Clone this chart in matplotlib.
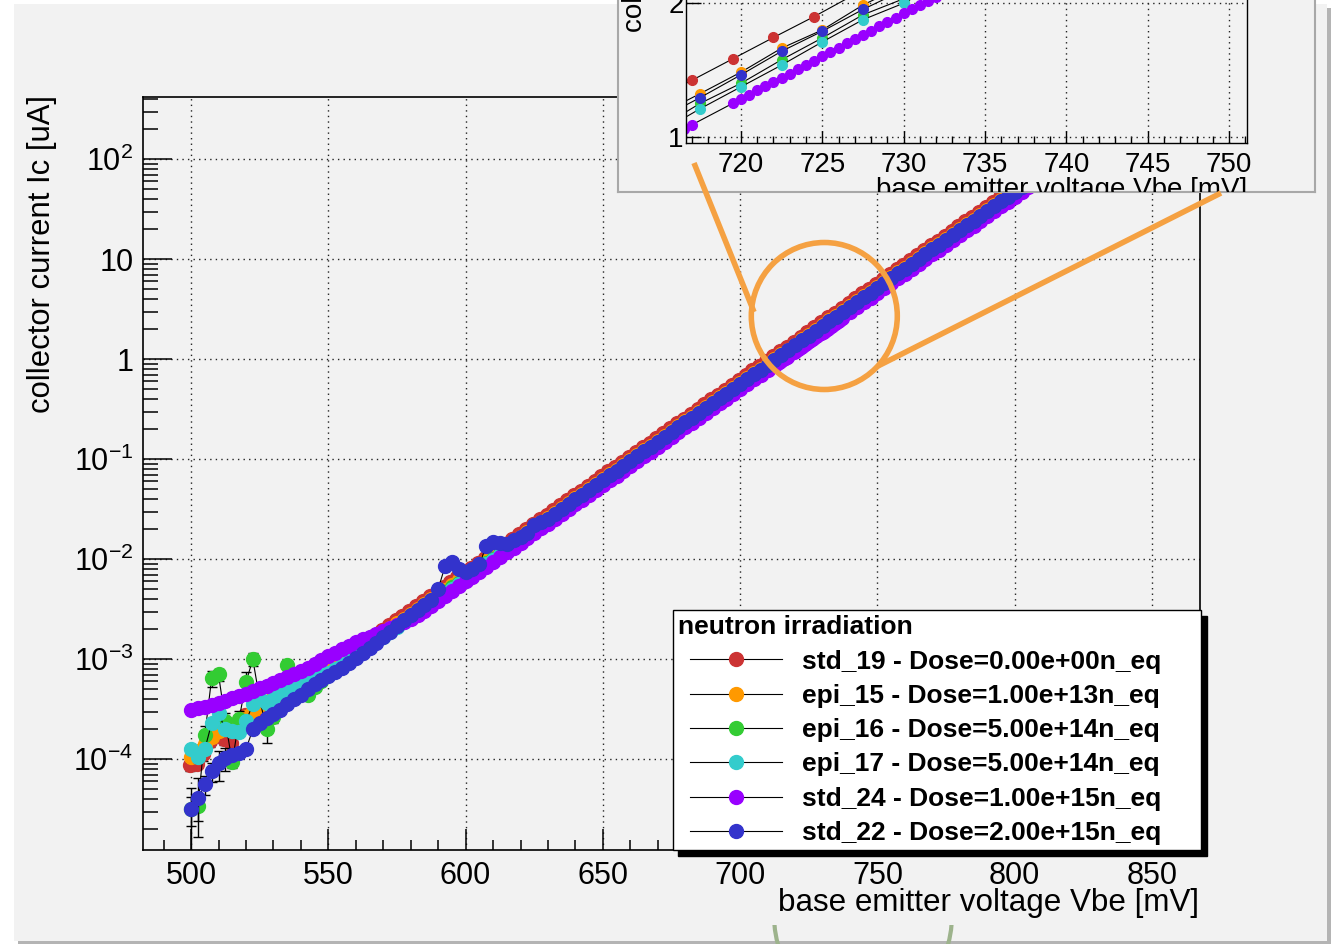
import numpy as np
import matplotlib
matplotlib.use("Agg")
import matplotlib.pyplot as plt
from matplotlib.patches import Rectangle, Ellipse
from matplotlib.lines import Line2D
from matplotlib.legend_handler import HandlerLine2D
from matplotlib.ticker import FixedLocator, FixedFormatter, LogLocator, MultipleLocator, NullFormatter

plt.rcParams['font.family'] = ['Liberation Sans', 'DejaVu Sans']
plt.rcParams['mathtext.fontset'] = 'custom'
plt.rcParams['mathtext.rm'] = 'Liberation Sans'
plt.rcParams['mathtext.it'] = 'Liberation Sans:italic'
plt.rcParams['mathtext.bf'] = 'Liberation Sans:bold'

# ---------------- data (log10 of collector current in uA) ----------------
vbe = np.arange(500.0, 850.01, 2.5)          # measurement grid [mV]
vbe_std19 = vbe - 0.5
vbe_std24 = np.concatenate([np.arange(500.0, 712.51, 2.5), np.arange(713.0, 717.01, 0.5),
                            np.arange(719.5, 737.01, 0.5), np.arange(740.0, 850.01, 2.5)])

log_std19 = [-4.06, -4.05, -3.95, -3.82, -3.74, -3.80, -3.84, -3.66, -3.56, -3.63,
             -3.57, -3.50, -3.45, -3.40, -3.35, -3.30, -3.26, -3.21, -3.17, -3.12,
             -3.08, -3.04, -2.99, -2.94, -2.90, -2.85, -2.81, -2.76, -2.71, -2.66,
             -2.61, -2.57, -2.52, -2.47, -2.42, -2.37, -2.33, -2.28, -2.23, -2.18,
             -2.13, -2.09, -2.04, -1.99, -1.94, -1.89, -1.85, -1.80, -1.75, -1.70,
             -1.65, -1.60, -1.56, -1.51, -1.46, -1.41, -1.36, -1.32, -1.27, -1.22,
             -1.17, -1.12, -1.08, -1.03, -0.98, -0.93, -0.88, -0.84, -0.79, -0.74,
             -0.69, -0.64, -0.60, -0.55, -0.50, -0.45, -0.40, -0.36, -0.31, -0.26,
             -0.21, -0.16, -0.11, -0.07, -0.02, 0.03, 0.08, 0.127, 0.175, 0.223,
             0.27, 0.32, 0.37, 0.42, 0.46, 0.51, 0.56, 0.61, 0.66, 0.70,
             0.75, 0.80, 0.85, 0.90, 0.94, 0.99, 1.04, 1.09, 1.14, 1.18,
             1.23, 1.28, 1.33, 1.38, 1.42, 1.47, 1.52, 1.57, 1.62, 1.66,
             1.71, 1.76, 1.81, 1.85, 1.90, 1.94, 1.99, 2.03, 2.08, 2.12,
             2.17, 2.21, 2.26, 2.30, 2.34, 2.39, 2.43, 2.47, 2.51, 2.55,
             2.59]

log_epi15 = [-3.98, -3.92, -3.85, -3.78, -3.72, -3.70, -3.66, -3.62, -3.58, -3.52,
             -3.47, -3.43, -3.39, -3.35, -3.31, -3.27, -3.23, -3.19, -3.16, -3.12,
             -3.09, -3.06, -3.02, -2.98, -2.93, -2.88, -2.84, -2.79, -2.74, -2.69,
             -2.64, -2.60, -2.55, -2.50, -2.45, -2.40, -2.36, -2.31, -2.26, -2.21,
             -2.16, -2.12, -2.07, -2.02, -1.97, -1.92, -1.87, -1.83, -1.78, -1.73,
             -1.68, -1.63, -1.59, -1.54, -1.49, -1.44, -1.39, -1.35, -1.30, -1.25,
             -1.20, -1.15, -1.11, -1.06, -1.01, -0.96, -0.91, -0.87, -0.82, -0.77,
             -0.72, -0.67, -0.62, -0.58, -0.53, -0.48, -0.43, -0.38, -0.34, -0.29,
             -0.24, -0.19, -0.14, -0.10, -0.05, 0.00, 0.05, 0.097, 0.145, 0.199,
             0.24, 0.296, 0.34, 0.39, 0.43, 0.48, 0.53, 0.58, 0.63, 0.67,
             0.72, 0.77, 0.82, 0.87, 0.91, 0.96, 1.01, 1.06, 1.11, 1.15,
             1.20, 1.25, 1.30, 1.35, 1.39, 1.44, 1.49, 1.54, 1.59, 1.63,
             1.68, 1.73, 1.78, 1.82, 1.87, 1.92, 1.96, 2.01, 2.05, 2.10,
             2.14, 2.19, 2.23, 2.28, 2.32, 2.36, 2.41, 2.45, 2.49, 2.53,
             2.57]

log_epi16 = [-4.50, -4.47, -3.76, -3.19, -3.15, -3.62, -4.03, -3.60, -3.23, -3.00,
             -3.40, -3.70, -3.58, -3.30, -3.06, -3.28, -3.35, -3.36, -3.28, -3.22,
             -3.16, -3.12, -3.08, -3.03, -2.98, -2.91, -2.86, -2.81, -2.77, -2.72,
             -2.67, -2.62, -2.57, -2.52, -2.48, -2.43, -2.38, -2.33, -2.28, -2.24,
             -2.19, -2.14, -2.09, -2.04, -2.00, -1.95, -1.90, -1.85, -1.80, -1.76,
             -1.71, -1.66, -1.61, -1.56, -1.52, -1.47, -1.42, -1.37, -1.32, -1.27,
             -1.23, -1.18, -1.13, -1.08, -1.03, -0.99, -0.94, -0.89, -0.84, -0.79,
             -0.75, -0.70, -0.65, -0.60, -0.55, -0.51, -0.46, -0.41, -0.36, -0.31,
             -0.27, -0.22, -0.17, -0.12, -0.07, -0.02, 0.02, 0.075, 0.12, 0.173,
             0.222, 0.274, 0.31, 0.36, 0.41, 0.46, 0.50, 0.55, 0.60, 0.65,
             0.70, 0.74, 0.79, 0.84, 0.89, 0.94, 0.98, 1.03, 1.08, 1.13,
             1.18, 1.22, 1.27, 1.32, 1.37, 1.41, 1.46, 1.51, 1.56, 1.61,
             1.65, 1.70, 1.75, 1.79, 1.84, 1.89, 1.93, 1.98, 2.02, 2.07,
             2.11, 2.16, 2.20, 2.25, 2.29, 2.33, 2.38, 2.42, 2.46, 2.50,
             2.54]

log_epi17 = [-3.90, -3.98, -3.90, -3.64, -3.54, -3.70, -3.72, -3.73, -3.62, -3.45,
             -3.40, -3.44, -3.40, -3.34, -3.30, -3.28, -3.25, -3.22, -3.19, -3.16,
             -3.14, -3.10, -3.06, -3.01, -2.97, -2.92, -2.87, -2.82, -2.78, -2.73,
             -2.68, -2.63, -2.58, -2.54, -2.49, -2.44, -2.39, -2.34, -2.30, -2.25,
             -2.20, -2.15, -2.10, -2.05, -2.01, -1.96, -1.91, -1.86, -1.81, -1.77,
             -1.72, -1.67, -1.62, -1.57, -1.53, -1.48, -1.43, -1.38, -1.33, -1.29,
             -1.24, -1.19, -1.14, -1.09, -1.05, -1.00, -0.95, -0.90, -0.85, -0.80,
             -0.76, -0.71, -0.66, -0.61, -0.56, -0.52, -0.47, -0.42, -0.37, -0.32,
             -0.28, -0.23, -0.18, -0.13, -0.08, -0.04, 0.01, 0.063, 0.112, 0.161,
             0.213, 0.263, 0.30, 0.35, 0.40, 0.45, 0.49, 0.54, 0.59, 0.64,
             0.69, 0.73, 0.78, 0.83, 0.88, 0.93, 0.97, 1.02, 1.07, 1.12,
             1.16, 1.21, 1.26, 1.31, 1.36, 1.40, 1.45, 1.50, 1.55, 1.59,
             1.64, 1.69, 1.74, 1.78, 1.83, 1.88, 1.92, 1.97, 2.01, 2.06,
             2.10, 2.15, 2.19, 2.24, 2.28, 2.32, 2.37, 2.41, 2.45, 2.49,
             2.53]

log_std24 = [-3.51, -3.49, -3.48, -3.46, -3.44, -3.42, -3.39, -3.37, -3.35, -3.32,
             -3.29, -3.27, -3.24, -3.21, -3.18, -3.15, -3.12, -3.09, -3.05, -3.01,
             -2.97, -2.94, -2.90, -2.87, -2.83, -2.80, -2.78, -2.75, -2.72, -2.69,
             -2.66, -2.63, -2.60, -2.56, -2.52, -2.47, -2.42, -2.37, -2.32, -2.27,
             -2.22, -2.18, -2.13, -2.08, -2.03, -1.98, -1.93, -1.89, -1.84, -1.79,
             -1.74, -1.69, -1.65, -1.60, -1.55, -1.50, -1.45, -1.41, -1.36, -1.31,
             -1.26, -1.21, -1.17, -1.12, -1.07, -1.02, -0.97, -0.93, -0.88, -0.83,
             -0.78, -0.73, -0.68, -0.64, -0.59, -0.54, -0.49, -0.44, -0.40, -0.35,
             -0.30, -0.25, -0.20, -0.16, -0.11, -0.06,
             -0.050, -0.040, -0.031, -0.021, -0.012, -0.002, 0.008, 0.017, 0.027,
             0.075, 0.085, 0.094, 0.104, 0.113, 0.123, 0.133, 0.142, 0.152, 0.161,
             0.171, 0.181, 0.190, 0.200, 0.210, 0.219, 0.229, 0.238, 0.248, 0.258,
             0.267, 0.277, 0.287, 0.296, 0.306, 0.315, 0.325, 0.335, 0.344, 0.354,
             0.363, 0.373, 0.383, 0.392, 0.402, 0.412,
             0.47, 0.52, 0.57, 0.61,
             0.66, 0.71, 0.76, 0.81, 0.85, 0.90, 0.95, 1.00, 1.05, 1.09,
             1.14, 1.19, 1.24, 1.29, 1.33, 1.38, 1.43, 1.48, 1.53, 1.57,
             1.62, 1.67, 1.72, 1.76, 1.81, 1.86, 1.90, 1.95, 1.99, 2.04,
             2.08, 2.13, 2.17, 2.22, 2.26, 2.30, 2.35, 2.39, 2.43, 2.47,
             2.51]

log_std22 = [-4.50, -4.39, -4.25, -4.12, -4.04, -3.99, -3.96, -3.94, -3.90, -3.70,
             -3.64, -3.59, -3.55, -3.51, -3.45, -3.40, -3.36, -3.30, -3.25, -3.21,
             -3.17, -3.13, -3.09, -3.04, -2.99, -2.94, -2.89, -2.84, -2.78, -2.73,
             -2.67, -2.61, -2.56, -2.51, -2.46, -2.41, -2.30, -2.07, -2.03, -2.10,
             -2.13, -2.10, -2.05, -1.87, -1.83, -1.84, -1.85, -1.81, -1.78, -1.74,
             -1.66, -1.63, -1.60, -1.55, -1.50, -1.45, -1.40, -1.36, -1.31, -1.26,
             -1.21, -1.16, -1.12, -1.07, -1.02, -0.97, -0.92, -0.88, -0.83, -0.78,
             -0.73, -0.68, -0.63, -0.59, -0.54, -0.49, -0.44, -0.39, -0.35, -0.30,
             -0.25, -0.20, -0.15, -0.11, -0.06, -0.01, 0.04, 0.088, 0.139, 0.192,
             0.237, 0.286, 0.33, 0.38, 0.42, 0.47, 0.52, 0.57, 0.62, 0.66,
             0.71, 0.76, 0.81, 0.86, 0.90, 0.95, 1.00, 1.05, 1.10, 1.14,
             1.19, 1.24, 1.29, 1.34, 1.38, 1.43, 1.48, 1.53, 1.58, 1.62,
             1.67, 1.72, 1.77, 1.81, 1.86, 1.91, 1.95, 2.00, 2.04, 2.09,
             2.13, 2.18, 2.22, 2.27, 2.31, 2.35, 2.40, 2.44, 2.48, 2.52,
             2.56]

# errors [uA] of the first (low-current) points of each series
err_std19 = [1.0e-5, 1.0e-5, 1.5e-5, 2.0e-5, 2.5e-5, 2.0e-5, 2.0e-5, 2.5e-5, 3.0e-5, 3.0e-5, 3.0e-5, 3.0e-5]
err_epi15 = [1.0e-5, 1.0e-5, 1.2e-5, 1.5e-5, 1.5e-5, 1.5e-5, 1.5e-5, 2.0e-5]
err_epi16 = [1.0e-5, 1.0e-5, 4.0e-5, 1.2e-4, 1.0e-4, 5.0e-5, 1.1e-5, 5.0e-5, 1.6e-4, 1.5e-4,
             6.0e-5, 5.5e-5, 3.0e-5, 5.0e-5, 8.0e-5]
err_epi17 = [1.0e-5, 1.0e-5, 1.0e-5, 1.5e-5, 1.5e-5, 1.5e-5, 1.5e-5, 1.5e-5, 1.5e-5, 2.0e-5]
err_std24 = [0.8e-5, 0.8e-5, 0.8e-5, 0.8e-5, 0.8e-5, 0.8e-5]
err_std22 = [2.0e-5, 2.4e-5, 1.2e-5, 1.6e-5, 3.0e-5, 2.6e-5, 1.0e-5, 1.0e-5, 0.8e-5, 0.6e-5]

labels = ["std_19 - Dose=0.00e+00n_eq", "epi_15 - Dose=1.00e+13n_eq", "epi_16 - Dose=5.00e+14n_eq",
          "epi_17 - Dose=5.00e+14n_eq", "std_24 - Dose=1.00e+15n_eq", "std_22 - Dose=2.00e+15n_eq"]
colors = ['#cc3333', '#ff9900', '#33cc33', '#33cccc', '#9900ff', '#3333cc']

x_ticks = [500, 550, 600, 650, 700, 750, 800, 850]
y_ticks = [1e-4, 1e-3, 1e-2, 1e-1, 1, 10, 100]
y_ticklabels = [r'$\mathregular{10^{-4}}$', r'$\mathregular{10^{-3}}$', r'$\mathregular{10^{-2}}$',
                r'$\mathregular{10^{-1}}$', '1', '10', r'$\mathregular{10^{2}}$']
inset_x_ticks = [720, 725, 730, 735, 740, 745, 750]
inset_y_ticks = [1, 2, 3, 4, 5, 6, 7]

series = [(vbe_std19, log_std19, err_std19), (vbe, log_epi15, err_epi15), (vbe, log_epi16, err_epi16),
          (vbe, log_epi17, err_epi17), (vbe_std24, log_std24, err_std24), (vbe, log_std22, err_std22)]
for i, (vx, lg, er) in enumerate(series):
    if len(vx) != len(lg):
        raise SystemExit(f"series {i}: {len(vx)} x vs {len(lg)} y")

# ---------------- figure ----------------
W, H = 1340, 944
fig = plt.figure(figsize=(W / 100, H / 100), dpi=100)
fig.patch.set_facecolor('white')


def ax_rect(x0, y0, x1, y1):
    return [x0 / W, 1 - y1 / H, (x1 - x0) / W, (y1 - y0) / H]


# canvas background
bg = fig.add_axes([0, 0, 1, 1], zorder=0)
bg.set_xlim(0, W); bg.set_ylim(H, 0); bg.axis('off')
bg.add_patch(Rectangle((18, 8), 1313, 937, fc='#b4b4b4', ec='none'))
bg.add_patch(Rectangle((14, 4), 1313, 937, fc='#f2f2f2', ec='none'))

grid_kw = dict(color='#222222', lw=1.0, ls=(0, (1, 3)))

# main axes
ax = fig.add_axes(ax_rect(143, 96.7, 1200, 850), zorder=1)
ax.set_facecolor('none')
ax.set_yscale('log')
ax.set_xlim(482.5, 867.5)
ax.set_ylim(10 ** -4.907, 10 ** 2.626)
ax.set_axisbelow(True)
ax.grid(True, which='major', **grid_kw)

handles = []
for i, ((vx, lg, er), c) in enumerate(zip(series, colors)):
    yv = 10 ** np.asarray(lg)
    n = len(er)
    ax.errorbar(vx[:n], yv[:n], yerr=er, fmt='none', ecolor='black', elinewidth=1.0,
                capsize=3.5, capthick=1.0, zorder=2 + i * 0.1)
    h, = ax.plot(vx, yv, '-', color='black', lw=0.8, marker='o', ms=10, mfc=c, mec=c,
                 zorder=2 + i * 0.1 + 0.05)
    handles.append(h)

ax.xaxis.set_major_locator(FixedLocator(x_ticks))
ax.xaxis.set_minor_locator(MultipleLocator(10))
ax.yaxis.set_major_locator(FixedLocator(y_ticks))
ax.yaxis.set_major_formatter(FixedFormatter(y_ticklabels))
ax.yaxis.set_minor_locator(LogLocator(base=10, subs=np.arange(2, 10), numticks=60))
ax.yaxis.set_minor_formatter(NullFormatter())
ax.tick_params(axis='x', which='major', direction='in', length=15, width=1.1, labelsize=22, pad=8, top=False)
ax.tick_params(axis='x', which='minor', direction='in', length=7.5, width=1.1, top=False)
ax.tick_params(axis='y', which='major', direction='in', length=21, width=1.1, labelsize=22, pad=7, right=False)
ax.tick_params(axis='y', which='minor', direction='in', length=11, width=1.1, right=False)
for s in ax.spines.values():
    s.set_linewidth(1.2)

fig.text(50 / W, 1 - 95 / H, 'collector current Ic [uA]', rotation=90, rotation_mode='anchor',
         ha='right', va='baseline', fontsize=22.3)
fig.text(1199 / W, 1 - 911 / H, 'base emitter voltage Vbe [mV]', ha='right', va='baseline', fontsize=22.6)

leg = ax.legend(handles, labels, title='neutron irradiation', loc='upper left',
                bbox_to_anchor=(672.5 / W, 1 - 610 / H, 528.5 / W, 0.0), bbox_transform=fig.transFigure,
                mode='expand', ncol=1, frameon=True, fancybox=False, edgecolor='black', facecolor='white',
                framealpha=1, shadow={'ox': 4.3, 'oy': -4.3, 'facecolor': 'black', 'edgecolor': 'black', 'alpha': 1},
                prop={'weight': 'bold', 'size': 19}, title_fontproperties={'weight': 'bold', 'size': 19},
                alignment='left', handlelength=3.96, handletextpad=0.76, labelspacing=0.39,
                borderpad=0.2, borderaxespad=0,
                handler_map={Line2D: HandlerLine2D(xpad=0.47)})
leg.get_frame().set_linewidth(1.0)

# inset pad
pad = fig.add_axes(ax_rect(618, -400, 1315, 191.7), zorder=2)
pad.set_xlim(618, 1315); pad.set_ylim(191.7, -400)
pad.set_facecolor('#f2f2f2')
pad.set_xticks([]); pad.set_yticks([])
for s in pad.spines.values():
    s.set_color('#a8a8a8'); s.set_linewidth(1.5)
pad.text(1247, 197, 'base emitter voltage Vbe [mV]', ha='right', va='baseline', fontsize=20, clip_on=True)
pad.text(642, 31.7, 'collector current Ic [uA]', rotation=90, rotation_mode='anchor',
         ha='left', va='baseline', fontsize=20, clip_on=True)

# inset axes
axi = fig.add_axes(ax_rect(686.4, -254, 1247, 143.3), zorder=3)
axi.set_facecolor('none')
axi.set_yscale('log')
axi.set_xlim(716.65, 751.1)
axi.set_ylim(10 ** -0.0148, 10 ** 0.878)
axi.set_axisbelow(True)
axi.grid(True, which='major', **grid_kw)
for i, ((vx, lg, er), c) in enumerate(zip(series, colors)):
    axi.plot(vx, 10 ** np.asarray(lg), '-', color='black', lw=0.8, marker='o', ms=7, mfc=c, mec=c,
             zorder=2 + i * 0.1)
axi.xaxis.set_major_locator(FixedLocator(inset_x_ticks))
axi.xaxis.set_minor_locator(MultipleLocator(1))
axi.yaxis.set_major_locator(FixedLocator(inset_y_ticks))
axi.yaxis.set_major_formatter(FixedFormatter([str(v) for v in inset_y_ticks]))
axi.yaxis.set_minor_locator(FixedLocator([]))
axi.tick_params(axis='x', which='major', direction='in', length=8.6, width=1.0, labelsize=20, pad=6, top=False)
axi.tick_params(axis='x', which='minor', direction='in', length=5, width=1.0, top=False)
axi.tick_params(axis='y', which='major', direction='in', length=11, width=1.0, labelsize=20, pad=2, right=False)
for s in axi.spines.values():
    s.set_linewidth(1.0)

# overlay annotations
ov = fig.add_axes([0, 0, 1, 1], zorder=5)
ov.set_xlim(0, W); ov.set_ylim(H, 0); ov.axis('off')
orange = '#f5a142'
ov.add_patch(Ellipse((824.3, 316), 146, 147, fill=False, ec=orange, lw=4))
ov.add_line(Line2D([694, 754], [163, 312], color=orange, lw=4, solid_capstyle='butt'))
ov.add_line(Line2D([1221, 878], [193, 366], color=orange, lw=4, solid_capstyle='butt'))
arc = Ellipse((863, 915), 178, 200, fill=False, ec='#9db38c', lw=3)
ov.add_patch(arc)
arc.set_clip_path(Rectangle((0, 925), W, 40, transform=ov.transData))

fig.savefig('out.png', dpi=100, facecolor=fig.get_facecolor())
